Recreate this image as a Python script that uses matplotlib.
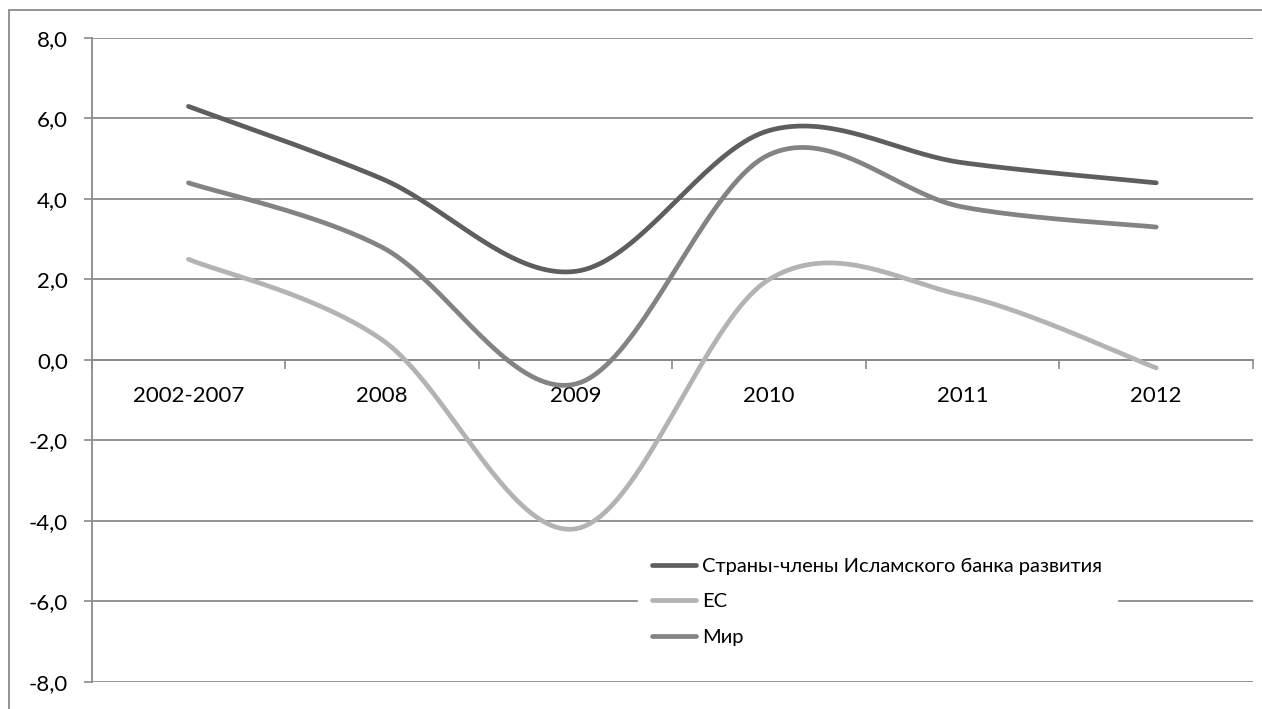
import numpy as np
import matplotlib
matplotlib.use('Agg')
import matplotlib.pyplot as plt
from matplotlib.patches import Rectangle

# --- Data ---
categories = ['2002-2007', '2008', '2009', '2010', '2011', '2012']
idb_members = [6.3, 4.5, 2.2, 5.7, 4.9, 4.4]
eu = [2.5, 0.5, -4.2, 2.0, 1.6, -0.2]
world = [4.4, 2.8, -0.6, 5.1, 3.8, 3.3]

series_names = ['Страны-члены Исламского банка развития', 'ЕС', 'Мир']
series_colors = ['#5e5e5e', '#b3b3b3', '#838383']

plt.rcParams['font.family'] = ['Lato', 'DejaVu Sans']


def smooth(xs, ys, n=40):
    # Excel-style smoothed line: cubic Bezier through points, tangent from neighbours
    pts = np.column_stack([xs, ys]).astype(float)
    out = []
    for i in range(len(pts) - 1):
        p0 = pts[i - 1] if i > 0 else pts[i]
        p1, p2 = pts[i], pts[i + 1]
        p3 = pts[i + 2] if i + 2 < len(pts) else pts[i + 1]
        c1 = p1 + (p2 - p0) / 6
        c2 = p2 - (p3 - p1) / 6
        t = np.linspace(0, 1, n)[:, None]
        seg = ((1 - t) ** 3) * p1 + 3 * ((1 - t) ** 2) * t * c1 + 3 * (1 - t) * t ** 2 * c2 + t ** 3 * p2
        out.append(seg if i == 0 else seg[1:])
    seg = np.vstack(out)
    return seg[:, 0], seg[:, 1]


fig = plt.figure(figsize=(12.62, 7.09), dpi=100)
ax = fig.add_axes([91.7 / 1262, 1 - 681.7 / 709, (1253 - 91.7) / 1262, (681.7 - 38) / 709])

# outer chart border (runs off canvas at right/bottom)
fig.patches.append(Rectangle((9 / 1262, -0.1), 1.2, 1 - 10 / 709 + 0.1, transform=fig.transFigure,
                             fill=False, edgecolor='#8a8a8a', linewidth=1.3))

x = np.arange(len(categories))
for vals, name, col in zip([idb_members, eu, world], series_names, series_colors):
    sx, sy = smooth(x, vals)
    ax.plot(sx, sy, color=col, linewidth=3.4, solid_capstyle='round', label=name, zorder=3)

ax.set_xlim(-0.5, len(categories) - 0.5)
ax.set_ylim(-8, 8)

# y axis
ax.set_yticks(np.arange(-8, 9, 2))
ax.set_yticklabels([f'{v:.1f}'.replace('.', ',') for v in np.arange(-8, 9, 2)], fontsize=16)
ax.tick_params(axis='y', direction='out', length=6, width=1.2, color='#8a8a8a', pad=11)
ax.grid(axis='y', color='#8a8a8a', linewidth=1.3, zorder=0)

# x axis at zero
ax.spines['bottom'].set_position(('data', 0))
ax.set_xticks(np.arange(-0.5, len(categories)), minor=False)
ax.set_xticklabels([])
ax.tick_params(axis='x', which='major', direction='out', length=6.5, width=1.2, color='#8a8a8a')
ax.set_xticks(x, minor=True)
ax.set_xticklabels(categories, minor=True, fontsize=16)
ax.tick_params(axis='x', which='minor', length=0, pad=19)

for s in ['top', 'right']:
    ax.spines[s].set_visible(False)
for s in ['left', 'bottom']:
    ax.spines[s].set_color('#8a8a8a')
    ax.spines[s].set_linewidth(1.3)

leg = ax.legend(loc='upper left', bbox_to_anchor=(638 / 1262, 1 - 544 / 709), bbox_transform=fig.transFigure,
                fontsize=14.5, frameon=True, fancybox=False, edgecolor='white', facecolor='white', framealpha=1,
                handlelength=2.2, handletextpad=0.3, labelspacing=0.9, borderpad=0.7, borderaxespad=0)
leg.set_zorder(5)

plt.savefig('out.png', dpi=100)
